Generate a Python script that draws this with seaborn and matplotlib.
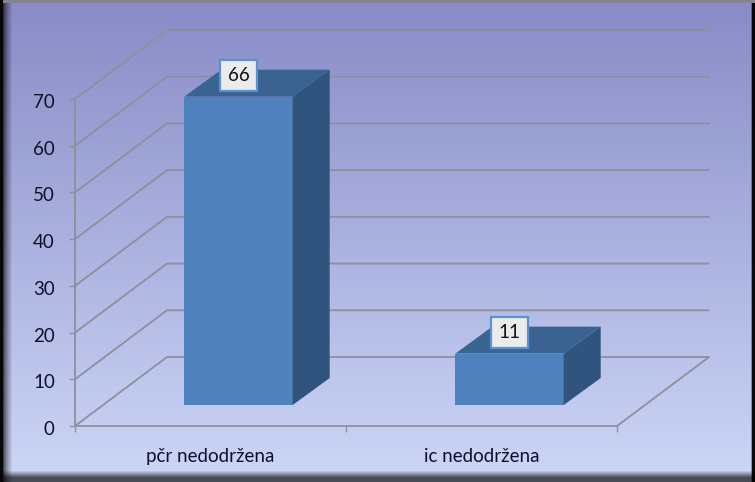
import numpy as np
import pandas as pd
import matplotlib
matplotlib.use("Agg")
import matplotlib.pyplot as plt
from matplotlib.patches import Polygon
from matplotlib.transforms import ScaledTranslation
import seaborn as sns

categories = ["pčr nedodržena", "ic nedodržena"]
values = [66, 11]
y_ticks = [0, 10, 20, 30, 40, 50, 60, 70]

W, H = 755, 482
sns.set_theme(style="white")
plt.rcParams["font.family"] = ["Lato", "DejaVu Sans"]

FRONT = "#4F81BD"
TOP = "#3A6392"
SIDE = "#31547F"
GRID = "#8C8F9C"
TEXT = "#10102A"
FS = 13.5

fig = plt.figure(figsize=(W / 100, H / 100), dpi=100)


def axes_px(x0, x1, ytop, ybot, **kw):
    return fig.add_axes([x0 / W, 1 - ybot / H, (x1 - x0) / W, (ybot - ytop) / H], **kw)


# background: vertical gradient with a dark bevelled frame
bg = fig.add_axes([0, 0, 1, 1])
t = np.linspace(0, 1, H)[:, None]
top_c = np.array([136, 139, 198]) / 255
bot_c = np.array([205, 215, 247]) / 255
img = np.repeat((top_c * (1 - t) + bot_c * t)[:, None, :], W, axis=1)
xx = np.arange(W)
yy = np.arange(H)
left = np.clip((xx - 3) / 9, 0, 1)[None, :, None]
right = np.clip((W - 3 - xx) / 1.5, 0, 1)[None, :, None]
bottom = np.clip((H - 5 - yy) / 7, 0, 1)[:, None, None]
img = img * (0.3 + 0.7 * left ** 0.7) * (0.05 + 0.95 * right) * (0.35 + 0.65 * bottom)
img[:3] = np.array([0.52, 0.52, 0.56])
img[:, :3] = 0.03
bg.imshow(img, aspect="auto", extent=(0, W, H, 0), interpolation="nearest")
bg.axis("off")

# front plane: value axis and category axis
ax = axes_px(75, 617, 99, 426)
ax.patch.set_alpha(0)
ax.set_xlim(-0.5, 1.5)
ax.set_ylim(0, 70)
px_x = 271.0
px_y = 327 / 70
wall_dx, wall_dy = 92 / px_x, 69 / px_y

for v in y_ticks:
    ax.plot([-0.5, -0.5 + wall_dx, 1.5 + wall_dx], [v, v + wall_dy, v + wall_dy],
            color=GRID, lw=1.3, clip_on=False, zorder=1, solid_joinstyle="miter")
ax.plot([1.5, 1.5 + wall_dx], [0, wall_dy], color=GRID, lw=1.3, clip_on=False, zorder=1)

for s in ["top", "right"]:
    ax.spines[s].set_visible(False)
for s in ["left", "bottom"]:
    ax.spines[s].set_color(GRID)
    ax.spines[s].set_linewidth(1.3)
ax.set_yticks(y_ticks)
ax.set_xticks([0, 1])
ax.set_xticklabels(categories)
ax.set_xticks([-0.5, 0.5, 1.5], minor=True)
ax.tick_params(axis="y", left=True, length=4.5, width=1, color=GRID, pad=10,
               labelsize=FS, labelcolor=TEXT)
ax.tick_params(axis="x", which="major", bottom=False, pad=10, labelsize=FS, labelcolor=TEXT)
ax.tick_params(axis="x", which="minor", bottom=True, length=4.5, width=1, color=GRID)
shift = ScaledTranslation(0, -2 / 100, fig.dpi_scale_trans)
for lab in ax.get_yticklabels():
    lab.set_transform(lab.get_transform() + shift)

# bars stand a little way into the depth of the floor
ax_bar = axes_px(103, 645, 78, 405)
ax_bar.patch.set_alpha(0)
df = pd.DataFrame({"category": categories, "value": values})
sns.barplot(data=df, x="category", y="value", color=FRONT, saturation=1, width=0.4,
            linewidth=0, edgecolor="none", ax=ax_bar, zorder=3)
ax_bar.set_xlim(-0.5, 1.5)
ax_bar.set_ylim(0, 70)
ax_bar.axis("off")
bar_dx, bar_dy = 37 / px_x, 27 / px_y
for bar in ax_bar.patches[:]:
    x0, x1 = bar.get_x(), bar.get_x() + bar.get_width()
    h = bar.get_height()
    ax_bar.add_patch(Polygon([(x0, h), (x0 + bar_dx, h + bar_dy), (x1 + bar_dx, h + bar_dy), (x1, h)],
                             closed=True, fc=TOP, ec="none", zorder=3, clip_on=False))
    ax_bar.add_patch(Polygon([(x1, 0), (x1 + bar_dx, bar_dy), (x1 + bar_dx, h + bar_dy), (x1, h)],
                             closed=True, fc=SIDE, ec="none", zorder=3, clip_on=False))
    ax_bar.annotate(f"{h:.0f}", xy=((x0 + x1) / 2, h), xytext=(0, 15), textcoords="offset points",
                    ha="center", va="center", fontsize=FS, color="#111111", zorder=5,
                    annotation_clip=False,
                    bbox=dict(boxstyle="square,pad=0.38", fc="#EBEBEB", ec="#5B93D0", lw=1.6))

fig.savefig("out.png", dpi=100)
